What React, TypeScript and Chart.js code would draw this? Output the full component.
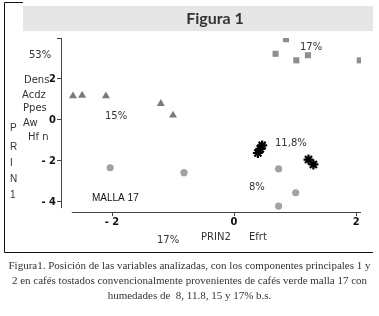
import React, { useEffect, useRef } from "react";
import { Chart, registerables } from "chart.js";

Chart.register(...registerables);

// ---- data ----
const squareX = [0.85, 0.68, 1.02, 1.21, 2.06];
const squareY = [3.94, 3.23, 2.91, 3.16, 2.91];
const triangleX = [-2.64, -2.49, -2.1, -1.2, -1.0];
const triangleY = [1.17, 1.2, 1.17, 0.8, 0.23];
const starX = [0.39, 0.43, 0.46, 1.22, 1.3];
const starY = [-1.61, -1.41, -1.24, -1.93, -2.17];
const circleX = [-2.03, -0.82, 0.73, 1.01, 0.73];
const circleY = [-2.33, -2.57, -2.39, -3.55, -4.2];

const xTicks = [-2, 0, 2];
const yTicks = [-4, -2, 0, 2, 4];
const yTickLabels = ["- 4", "- 2", "0", "2", ""];
const xTickLabels = ["- 2", "0", "2"];

const titleText = "Figura 1";
const captionLines = [
  "Figura1. Posición de las variables analizadas, con los componentes principales 1 y",
  "2 en cafés tostados convencionalmente provenientes de cafés verde malla 17 con",
  "humedades de  8, 11.8, 15 y 17% b.s.",
];
const annotationTexts = ["53%", "17%", "Dens", "Acdz", "Ppes", "Aw", "Hf n", "15%", "11,8%", "8%", "17%", "PRIN2", "Efrt"];
const axisLetters = ["P", "R", "I", "N", "1"];
const mallaText = "MALLA 17";

// ---- layout (pixels) ----
const annotationPos: [number, number][] = [
  [29, 55], [300, 47], [24, 80], [22, 95], [23, 108], [23, 123], [28, 137],
  [105, 116], [275, 143], [249, 187], [157, 240], [201, 237], [249, 237],
];
const axisLetterPos: [number, number][] = [
  [10, 128], [10, 147], [10, 163], [10, 179], [10, 195],
];
const mallaPos: [number, number] = [92, 198];

const toPoints = (xs: number[], ys: number[]) => xs.map((x, i) => ({ x, y: ys[i] }));

export default function App() {
  const ref = useRef<HTMLCanvasElement | null>(null);

  useEffect(() => {
    if (!ref.current) return;
    const tickFont = { family: "'Liberation Sans Narrow', 'DejaVu Sans Condensed', 'Liberation Sans', sans-serif", size: 11, weight: "bold" as const };

    const decor = {
      id: "decor",
      beforeDraw(chart: any) {
        const ctx = chart.ctx;
        ctx.save();
        ctx.fillStyle = "#ffffff";
        ctx.fillRect(0, 0, chart.width, chart.height);
        // frame
        ctx.strokeStyle = "#111";
        ctx.lineWidth = 1;
        ctx.beginPath();
        ctx.moveTo(23, 2.5);
        ctx.lineTo(4.5, 2.5);
        ctx.lineTo(4.5, 252.5);
        ctx.lineTo(373, 252.5);
        ctx.stroke();
        // title bar
        ctx.fillStyle = "#e6e6e6";
        ctx.fillRect(23, 6, 350, 25);
        ctx.fillStyle = "#333";
        ctx.font = "bold 16px Lato, 'Open Sans', sans-serif";
        ctx.textAlign = "center";
        ctx.textBaseline = "middle";
        ctx.fillText(titleText, 215, 19);
        ctx.restore();
      },
      afterDraw(chart: any) {
        const ctx = chart.ctx;
        const xs = chart.scales.x;
        const ys = chart.scales.y;
        const area = chart.chartArea;
        ctx.save();
        ctx.strokeStyle = "#444";
        ctx.lineWidth = 1;
        ctx.beginPath();
        const ax = Math.round(area.left) + 0.5;
        ctx.moveTo(ax, ys.getPixelForValue(4));
        ctx.lineTo(ax, ys.getPixelForValue(-4.3));
        const ay = Math.round(area.bottom) + 0.5;
        ctx.moveTo(xs.getPixelForValue(-2.66), ay);
        ctx.lineTo(area.right, ay);
        ctx.stroke();

        ctx.textAlign = "left";
        ctx.textBaseline = "middle";
        ctx.fillStyle = "#333";
        ctx.font = "10px 'DejaVu Sans', sans-serif";
        annotationTexts.forEach((t, i) => {
          const [px, py] = annotationPos[i];
          ctx.fillText(t, px, py);
        });
        ctx.font = "10px 'Liberation Sans', sans-serif";
        axisLetters.forEach((t, i) => {
          const [px, py] = axisLetterPos[i];
          ctx.fillText(t, px, py);
        });
        ctx.fillStyle = "#111";
        ctx.fillText(mallaText, mallaPos[0], mallaPos[1]);

        ctx.fillStyle = "#333";
        ctx.font = "11px 'Liberation Serif', serif";
        ctx.textAlign = "center";
        captionLines.forEach((t, i) => {
          ctx.fillText(t, 189.5, 266 + i * 15);
        });
        ctx.restore();
      },
    };

    const chart = new Chart(ref.current, {
      type: "scatter",
      data: {
        datasets: [
          {
            data: toPoints(squareX, squareY),
            pointStyle: "rect",
            pointRadius: 4.3,
            backgroundColor: "#8e8e8e",
            borderColor: "#8e8e8e",
            borderWidth: 0,
          },
          {
            data: toPoints(triangleX, triangleY),
            pointStyle: "triangle",
            pointRadius: 4.6,
            backgroundColor: "#7a7a7a",
            borderColor: "#7a7a7a",
            borderWidth: 0,
          },
          {
            data: toPoints(starX, starY),
            pointStyle: "star",
            pointRadius: 5,
            backgroundColor: "#000",
            borderColor: "#000",
            borderWidth: 2.2,
          },
          {
            data: toPoints(circleX, circleY),
            pointStyle: "circle",
            pointRadius: 3.6,
            backgroundColor: "#a2a2a2",
            borderColor: "#a2a2a2",
            borderWidth: 0,
          },
        ],
      },
      options: {
        responsive: false,
        animation: false,
        devicePixelRatio: 1,
        layout: { padding: { top: 38, right: 18, left: 0, bottom: 0 } },
        plugins: { legend: { display: false }, tooltip: { enabled: false }, title: { display: false } },
        scales: {
          x: {
            type: "linear",
            min: -2.836,
            max: 2.08,
            afterBuildTicks: (s: any) => {
              s.ticks = xTicks.map((v) => ({ value: v }));
            },
            afterFit: (s: any) => {
              s.height = 104;
            },
            grid: { display: true, drawOnChartArea: false, drawTicks: true, tickLength: 4, color: "#444" },
            border: { display: false },
            ticks: {
              color: "#111",
              font: tickFont,
              padding: 0,
              maxRotation: 0,
              callback: (v: any) => {
                const i = xTicks.indexOf(Number(v));
                return i >= 0 ? xTickLabels[i] : "";
              },
            },
          },
          y: {
            type: "linear",
            min: -4.49,
            max: 4,
            afterBuildTicks: (s: any) => {
              s.ticks = yTicks.map((v) => ({ value: v }));
            },
            afterFit: (s: any) => {
              s.width = 61;
            },
            grid: { display: true, drawOnChartArea: false, drawTicks: true, tickLength: 4, color: "#444" },
            border: { display: false },
            ticks: {
              color: "#111",
              font: tickFont,
              padding: 1,
              callback: (v: any) => {
                const i = yTicks.indexOf(Number(v));
                return i >= 0 ? yTickLabels[i] : "";
              },
            },
          },
        },
      },
      plugins: [decor],
    });
    return () => chart.destroy();
  }, []);

  return (
    <div style={{ position: "fixed", left: 0, top: 0, width: 379, height: 316, background: "#fff" }}>
      <canvas ref={ref} width={379} height={316} style={{ display: "block", width: 379, height: 316 }} />
    </div>
  );
}
